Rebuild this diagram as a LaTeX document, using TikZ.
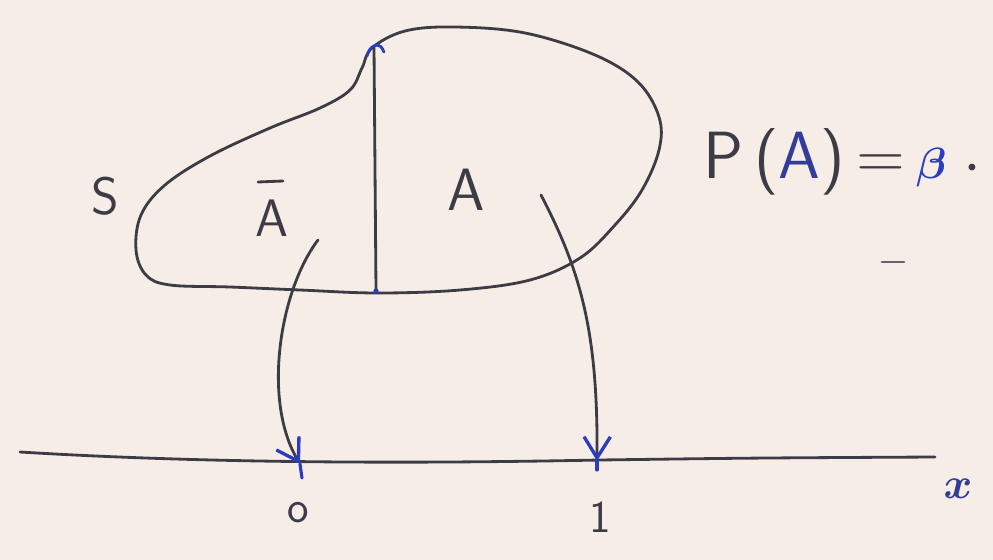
\documentclass[tikz,border=0pt]{standalone}
\usepackage{bm}
\usetikzlibrary{arrows.meta}
\definecolor{paper}{HTML}{F6EEE6}
\definecolor{pencil}{HTML}{3C3C46}
\definecolor{ink}{HTML}{2C3CC0}
\tikzset{
  pen/.style={draw=pencil, line width=1.6pt, line cap=round, line join=round},
  map/.style={pen, -{Straight Barb[length=12pt,width=15pt,line width=1.9pt,color=ink]}},
  lbl/.style={text=pencil, font=\sffamily\fontsize{30}{30}\selectfont, inner sep=0pt},
  tick/.style={text=pencil, font=\sffamily\fontsize{26}{26}\selectfont, inner sep=0pt}
}
\begin{document}
\begin{tikzpicture}[x=0.02cm,y=-0.02cm]
\fill[paper] (0,0) rectangle (993,560);
\useasboundingbox (0,0) rectangle (993,560);
% the sample space S
\draw[pen] plot[smooth cycle, tension=0.6] coordinates {
 (372,48) (405,31) (455,27) (525,33) (595,55) (638,82) (659,117) (659,150)
 (642,190) (615,225) (580,258) (530,280) (460,290) (378,293) (300,290)
 (230,287) (170,285) (146,275) (136,250) (141,215) (165,185) (210,156)
 (270,128) (320,108) (350,90) (362,68)};
% dividing line between A-bar and A
\coordinate (divbot) at (376,291);
\coordinate (divtop) at (374,47);
\draw[pen] (divbot) -- (divtop);
\draw[ink, line width=1.6pt, line cap=round] (367,56) .. controls (370,48) .. (376,45) .. controls (381,46) .. (384,52);
\fill[ink] (divbot) circle (2.6);
% labels in the set
\node[lbl] (S) at (105,196) {S};
\node[lbl] (Abar) at (272,218) {A};
\draw[pen] (258,182) -- (283,181);
\node[lbl, font=\sffamily\fontsize{34}{34}\selectfont] (A) at (466,190) {A};
\node[lbl, anchor=west, font=\sffamily\fontsize{38}{38}\selectfont] (PA) at (703,162) {P\,(\textcolor{ink!70!pencil}{A})\,=\,\textcolor{ink}{$\bm{\beta}$}\;$\bm{\cdot}$};
% x axis
\coordinate (axL) at (20,452);
\coordinate (axR) at (935,457);
\draw[pen] (axL) .. controls (200,463) and (400,464) .. (600,460) .. controls (750,458) .. (axR);
\coordinate (zero) at (300,464);
\coordinate (one) at (597,461);
\node[tick] (n0) at (298,513) {o};
\node[tick] (n1) at (600,517) {1};
\node[lbl, text=ink!65!pencil, font=\fontsize{38}{38}\selectfont] (xl) at (958,489) {$\bm{x}$};
% mapping arrows
\coordinate (fromAbar) at (318,240);
\coordinate (fromA) at (541,195);
\draw[map] (fromAbar) .. controls (280,290) and (262,400) .. (zero);
\draw[map] (fromA) .. controls (580,270) and (598,330) .. (one);
\draw[ink, line width=1.8pt, line cap=round] (zero) -- (302,478);
\draw[ink, line width=1.8pt, line cap=round] (one) -- (597,470);
% stray pencil mark
\draw[pencil!80, line width=1.6pt, line cap=round] (882,262) -- (904,262);
\end{tikzpicture}
\end{document}
